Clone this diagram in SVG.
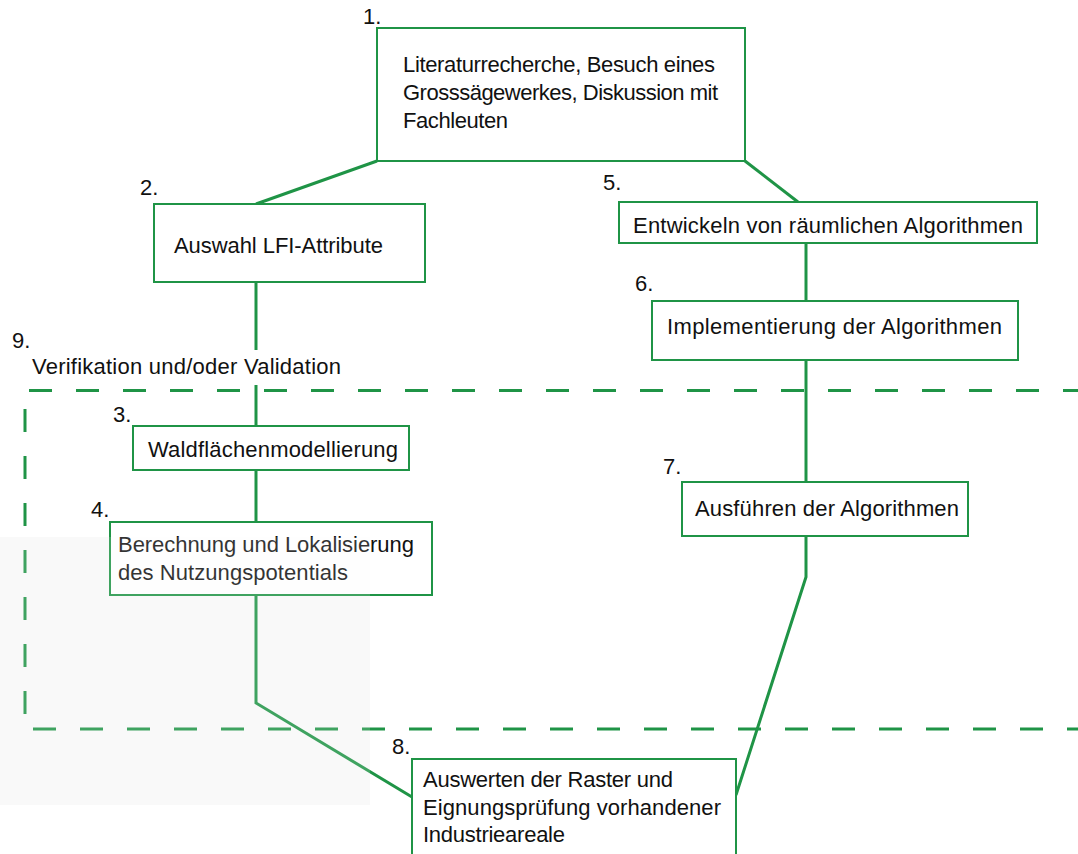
<svg xmlns="http://www.w3.org/2000/svg" width="1078" height="854" viewBox="0 0 1078 854">
<style>
  .box { fill: #ffffff; stroke: #1f9446; stroke-width: 2; }
  .conn { fill: none; stroke: #1f9446; stroke-width: 3; stroke-linejoin: miter; }
  .dash { fill: none; stroke: #1f9446; stroke-width: 3; stroke-dasharray: 23 24; }
  text { font-family: "Liberation Sans", Arial, sans-serif; font-size: 22px; fill: #111111; }
</style>
<rect x="0" y="0" width="1078" height="854" fill="#ffffff"/>
<rect id="grey-area" x="0" y="537" width="370" height="268" fill="#f9f9f9"/>

<g id="region-9">
  <line class="dash" x1="29" y1="390.5" x2="1078" y2="390.5"/>
  <line class="dash" x1="25" y1="409" x2="25" y2="716"/>
  <line class="dash" x1="33" y1="729" x2="1078" y2="729"/>
  <text x="12" y="348">9.</text>
  <text x="32" y="374" textLength="309">Verifikation und/oder Validation</text>
</g>

<g id="connectors">
  <polyline class="conn" points="377,161 256,204"/>
  <polyline class="conn" points="745,161 798,202"/>
  <polyline class="conn" points="256,282 256,350"/>
  <polyline class="conn" points="256,385 256,426"/>
  <polyline class="conn" points="256,470 256,522"/>
  <polyline class="conn" points="256,595 256,703 412,797"/>
  <polyline class="conn" points="806,243 806,301"/>
  <polyline class="conn" points="806,360 806,482"/>
  <polyline class="conn" points="806,536 806,577 736,795"/>
</g>

<g id="node1">
  <rect class="box" x="377" y="28" width="368" height="133"/>
  <text x="363" y="24">1.</text>
  <text x="403" y="72" textLength="312">Literaturrecherche, Besuch eines</text>
  <text x="403" y="100" textLength="315">Grosssägewerkes, Diskussion mit</text>
  <text x="403" y="128" textLength="105">Fachleuten</text>
</g>

<g id="node2">
  <rect class="box" x="154" y="204" width="271" height="78"/>
  <text x="140" y="195">2.</text>
  <text x="174" y="253" textLength="209">Auswahl LFI-Attribute</text>
</g>

<g id="node3">
  <rect class="box" x="133" y="426" width="276" height="44"/>
  <text x="113" y="422">3.</text>
  <text x="148" y="457" textLength="250">Waldflächenmodellierung</text>
</g>

<g id="node4">
  <rect class="box" x="110" y="522" width="322" height="73"/>
  <text x="91" y="517">4.</text>
  <text x="118" y="552" textLength="296">Berechnung und Lokalisierung</text>
  <text x="118" y="580" textLength="230">des Nutzungspotentials</text>
</g>

<g id="node5">
  <rect class="box" x="619" y="202" width="418" height="41"/>
  <text x="603" y="190">5.</text>
  <text x="633" y="233" textLength="390">Entwickeln von räumlichen Algorithmen</text>
</g>

<g id="node6">
  <rect class="box" x="652" y="301" width="366" height="59"/>
  <text x="635" y="291">6.</text>
  <text x="667" y="334" textLength="335">Implementierung der Algorithmen</text>
</g>

<g id="node7">
  <rect class="box" x="682" y="482" width="286" height="54"/>
  <text x="663" y="474">7.</text>
  <text x="695" y="516" textLength="264">Ausführen der Algorithmen</text>
</g>

<g id="node8">
  <rect class="box" x="412" y="759" width="324" height="110"/>
  <text x="392" y="754">8.</text>
  <text x="423" y="787" textLength="250">Auswerten der Raster und</text>
  <text x="423" y="815" textLength="298">Eignungsprüfung vorhandener</text>
  <text x="423" y="842" textLength="142">Industrieareale</text>
</g>

<rect id="grey-overlay" x="0" y="537" width="370" height="268" fill="#f9f9f9" fill-opacity="0.15"/>
</svg>
